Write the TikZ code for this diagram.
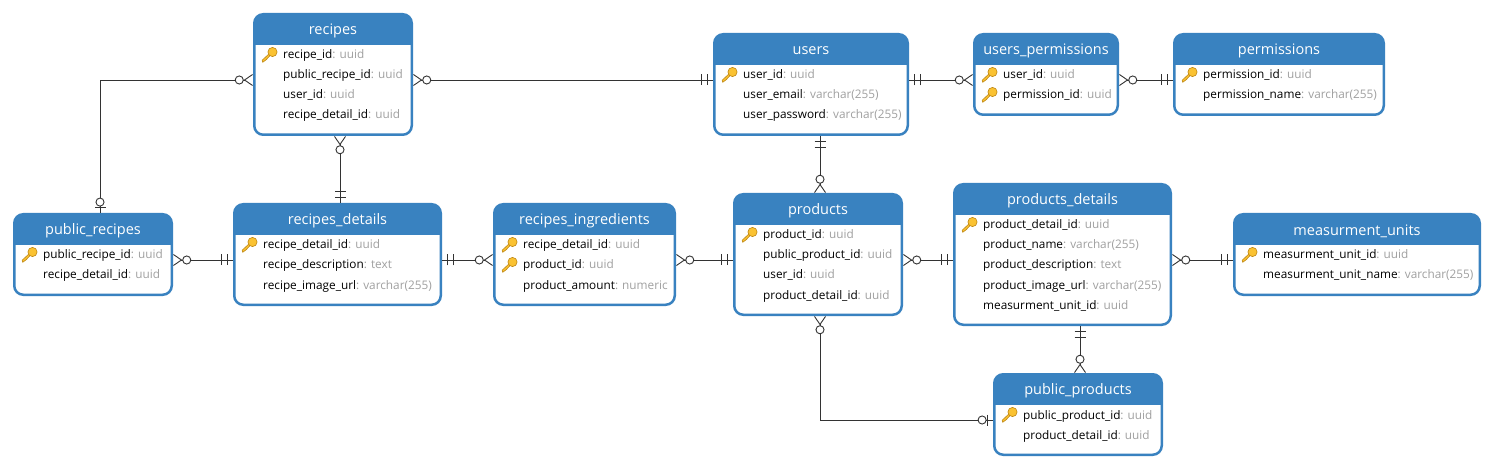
\documentclass[tikz,border=0pt]{standalone}
\usepackage{fontspec}
\setmainfont{Open Sans}
\usetikzlibrary{arrows.meta}
\usetikzlibrary{positioning}
\definecolor{tableblue}{RGB}{57,130,192}
\definecolor{linegrey}{RGB}{51,51,51}
\definecolor{typegrey}{RGB}{160,160,160}
\definecolor{keygold}{RGB}{250,194,50}
\definecolor{keyedge}{RGB}{190,135,20}
\newcommand{\dtype}[1]{\textcolor{typegrey}{: #1}}
\tikzset{
  tablebox/.style={draw=tableblue,line width=2.5pt,rounded corners=9pt,fill=white,
    path picture={\fill [tableblue,sharp corners] (path picture bounding box.north west) rectangle
      ([yshift=-31pt]path picture bounding box.north east);}},
  tabletitle/.style={text=white,font=\fontsize{14.5}{16}\selectfont,inner sep=0pt},
  field/.style={anchor=west,inner sep=0pt,text=black,font=\fontsize{11.8}{14}\selectfont,
    text height=9pt,text depth=3pt},
  keyicon/.pic={
    \draw [keyedge,fill=keygold,line width=.6pt,line join=round]
      (-6.8,7.3) -- (-7.3,5.2) -- (0,-1.6) -- (0.6,0.6) -- (-1.2,2.4) -- (-3.2,4.6) -- cycle;
    \draw [keyedge,fill=keygold,line width=.6pt] (3,-3) circle (4.6);
  },
  cable/.style={draw=linegrey,line width=.9pt},
  twobars/.tip={Bar[width=11pt,line width=.9pt,length=0pt,sep=0pt]
    Rectangle[length=5.5pt,width=.9pt,line width=0pt,sep=0pt]
    Bar[width=11pt,line width=.9pt,length=0pt,sep=0pt]
    Rectangle[length=5pt,width=.9pt,line width=0pt,sep=0pt]},
  zeroone/.tip={Circle[open,fill=white,length=9pt,width=9pt,line width=.9pt,sep=.5pt]
    Bar[width=11pt,line width=.9pt,length=0pt,sep=0pt]
    Rectangle[length=5pt,width=.9pt,line width=0pt,sep=0pt]},
  zeromany/.tip={Circle[open,fill=white,length=9pt,width=9pt,line width=.9pt,sep=0pt]
    Straight Barb[reversed,length=8pt,width=11pt,line width=.9pt,sep=0pt]}
}
\begin{document}
\begin{tikzpicture}[x=1pt,y=-1pt]
  \useasboundingbox (0,0) rectangle (1493,470);

  \coordinate (rowtop) at (0,80);
  \coordinate (rowmid) at (0,260);
  \coordinate (rowlow) at (0,420);
  \coordinate (colpub) at (100,0);
  \coordinate (colrec) at (340,0);
  \coordinate (colusr) at (820,0);
  \coordinate (coldet) at (1080,0);

  % tables
  \node (recipes) at (333,74.5) [tablebox,minimum width=157.5pt,minimum height=120.5pt] {};
  \node (users) at (811,84.5) [tablebox,minimum width=193.5pt,minimum height=100.5pt] {};
  \node (users_permissions) at (1046,74.5) [tablebox,minimum width=143.5pt,minimum height=80.5pt] {};
  \node (permissions) at (1279,74.5) [tablebox,minimum width=209.5pt,minimum height=80.5pt] {};
  \node (public_recipes) at (93,254.5) [tablebox,minimum width=157.5pt,minimum height=80.5pt] {};
  \node (recipes_details) at (337.5,254.5) [tablebox,minimum width=206.5pt,minimum height=100.5pt] {};
  \node (recipes_ingredients) at (584.5,254.5) [tablebox,minimum width=180.5pt,minimum height=100.5pt] {};
  \node (products) at (818,254.5) [tablebox,minimum width=167.5pt,minimum height=120.5pt] {};
  \node (products_details) at (1062.5,254.5) [tablebox,minimum width=216.5pt,minimum height=140.5pt] {};
  \node (measurment_units) at (1357,254.5) [tablebox,minimum width=245.5pt,minimum height=80.5pt] {};
  \node (public_products) at (1078,414.5) [tablebox,minimum width=167.5pt,minimum height=80.5pt] {};

  % titles
  \node (recipes_title) at (333,31) [tabletitle] {recipes};
  \node (users_title) at (811,51) [tabletitle] {users};
  \node (users_permissions_title) at (1046,51) [tabletitle] {users\_permissions};
  \node (permissions_title) at (1279,51) [tabletitle] {permissions};
  \node (public_recipes_title) at (93,231) [tabletitle] {public\_recipes};
  \node (recipes_details_title) at (337.5,221) [tabletitle] {recipes\_details};
  \node (recipes_ingredients_title) at (584.5,221) [tabletitle] {recipes\_ingredients};
  \node (products_title) at (818,211) [tabletitle] {products};
  \node (products_details_title) at (1062.5,201) [tabletitle] {products\_details};
  \node (measurment_units_title) at (1357,231) [tabletitle] {measurment\_units};
  \node (public_products_title) at (1078,391) [tabletitle] {public\_products};

  % keys
  \pic at (269.5,55) {keyicon};
  \pic at (729.5,75) {keyicon};
  \pic at (989.5,75) {keyicon};
  \pic at (989.5,95) {keyicon};
  \pic at (1189.5,75) {keyicon};
  \pic at (29.5,255) {keyicon};
  \pic at (249.5,245) {keyicon};
  \pic at (509.5,245) {keyicon};
  \pic at (509.5,265) {keyicon};
  \pic at (749.5,235) {keyicon};
  \pic at (969.5,225) {keyicon};
  \pic at (1249.5,255) {keyicon};
  \pic at (1009.5,415) {keyicon};

  % fields
  \node (recipes_a) at (283,56) [field] {recipe\_id\dtype{uuid}};
  \node (recipes_b) at (283,76) [field] {public\_recipe\_id\dtype{uuid}};
  \node (recipes_c) at (283,96) [field] {user\_id\dtype{uuid}};
  \node (recipes_d) at (283,116) [field] {recipe\_detail\_id\dtype{uuid}};
  \node (users_a) at (743,76) [field] {user\_id\dtype{uuid}};
  \node (users_b) at (743,96) [field] {user\_email\dtype{varchar(255)}};
  \node (users_c) at (743,116) [field] {user\_password\dtype{varchar(255)}};
  \node (users_permissions_a) at (1003,76) [field] {user\_id\dtype{uuid}};
  \node (users_permissions_b) at (1003,96) [field] {permission\_id\dtype{uuid}};
  \node (permissions_a) at (1203,76) [field] {permission\_id\dtype{uuid}};
  \node (permissions_b) at (1203,96) [field] {permission\_name\dtype{varchar(255)}};
  \node (public_recipes_a) at (43,256) [field] {public\_recipe\_id\dtype{uuid}};
  \node (public_recipes_b) at (43,276) [field] {recipe\_detail\_id\dtype{uuid}};
  \node (recipes_details_a) at (263,246) [field] {recipe\_detail\_id\dtype{uuid}};
  \node (recipes_details_b) at (263,266) [field] {recipe\_description\dtype{text}};
  \node (recipes_details_c) at (263,286) [field] {recipe\_image\_url\dtype{varchar(255)}};
  \node (recipes_ingredients_a) at (523,246) [field] {recipe\_detail\_id\dtype{uuid}};
  \node (recipes_ingredients_b) at (523,266) [field] {product\_id\dtype{uuid}};
  \node (recipes_ingredients_c) at (523,286) [field] {product\_amount\dtype{numeric}};
  \node (products_a) at (763,236) [field] {product\_id\dtype{uuid}};
  \node (products_b) at (763,256) [field] {public\_product\_id\dtype{uuid}};
  \node (products_c) at (763,276) [field] {user\_id\dtype{uuid}};
  \node (products_d) at (763,296) [field] {product\_detail\_id\dtype{uuid}};
  \node (products_details_a) at (983,226) [field] {product\_detail\_id\dtype{uuid}};
  \node (products_details_b) at (983,246) [field] {product\_name\dtype{varchar(255)}};
  \node (products_details_c) at (983,266) [field] {product\_description\dtype{text}};
  \node (products_details_d) at (983,286) [field] {product\_image\_url\dtype{varchar(255)}};
  \node (products_details_e) at (983,306) [field] {measurment\_unit\_id\dtype{uuid}};
  \node (measurment_units_a) at (1263,256) [field] {measurment\_unit\_id\dtype{uuid}};
  \node (measurment_units_b) at (1263,276) [field] {measurment\_unit\_name\dtype{varchar(255)}};
  \node (public_products_a) at (1023,416) [field] {public\_product\_id\dtype{uuid}};
  \node (public_products_b) at (1023,436) [field] {product\_detail\_id\dtype{uuid}};

  % connectors
  \draw [cable,{zeromany}-{zeroone}] (recipes.west |- rowtop) -| (public_recipes.north -| colpub);
  \draw [cable,{zeromany}-{twobars}] (recipes.east |- rowtop) to (users.west |- rowtop);
  \draw [cable,{zeromany}-{twobars}] (recipes.south -| colrec) to (recipes_details.north -| colrec);
  \draw [cable,{zeromany}-{twobars}] (public_recipes.east |- rowmid) to (recipes_details.west |- rowmid);
  \draw [cable,{twobars}-{zeromany}] (recipes_details.east |- rowmid) to (recipes_ingredients.west |- rowmid);
  \draw [cable,{zeromany}-{twobars}] (recipes_ingredients.east |- rowmid) to (products.west |- rowmid);
  \draw [cable,{twobars}-{zeromany}] (users.east |- rowtop) to (users_permissions.west |- rowtop);
  \draw [cable,{zeromany}-{twobars}] (users_permissions.east |- rowtop) to (permissions.west |- rowtop);
  \draw [cable,{twobars}-{zeromany}] (users.south -| colusr) to (products.north -| colusr);
  \draw [cable,{zeromany}-{twobars}] (products.east |- rowmid) to (products_details.west |- rowmid);
  \draw [cable,{zeromany}-{twobars}] (products_details.east |- rowmid) to (measurment_units.west |- rowmid);
  \draw [cable,{twobars}-{zeromany}] (products_details.south -| coldet) to (public_products.north -| coldet);
  \draw [cable,{zeromany}-{zeroone}] (products.south -| colusr) |- (public_products.west |- rowlow);
\end{tikzpicture}
\end{document}
